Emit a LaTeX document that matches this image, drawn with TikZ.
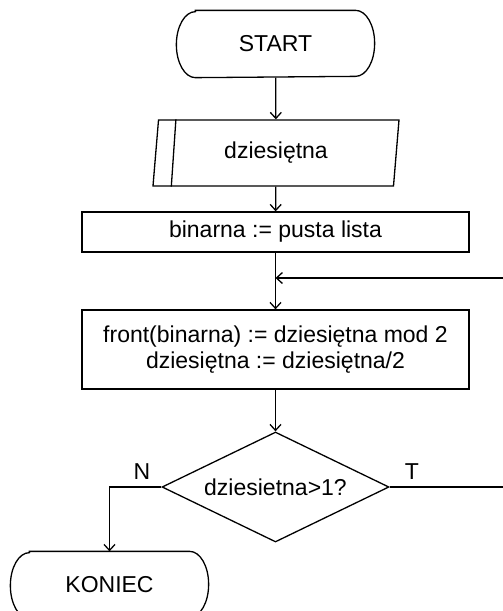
\documentclass[tikz,border=0pt]{standalone}
\usepackage{fontspec}
\setmainfont{Liberation Sans}
\usetikzlibrary{shapes.geometric,arrows.meta}
\newcommand{\termOutline}[1]{%
  \draw ([xshift=9.5pt]#1.north west) -- ([xshift=-9.5pt]#1.north east)
    arc[start angle=90,end angle=-90,x radius=9.5pt,y radius=16.5pt]
    -- ([xshift=9.5pt]#1.south west)
    arc[start angle=270,end angle=90,x radius=9.5pt,y radius=16.5pt] -- cycle;}

\begin{document}
\begin{tikzpicture}[x=0.5pt,y=-0.5pt,line width=0.65pt,
  every node/.style={font=\fontsize{11.5pt}{13pt}\selectfont},
  term/.style={minimum width=98.5pt,minimum height=33pt,inner sep=0pt},
  inout/.style={draw,trapezium,trapezium left angle=75.6,trapezium right angle=104.4,
    trapezium stretches body,minimum width=123pt,minimum height=33pt,inner sep=0pt},
  block/.style={draw,minimum width=193.5pt,inner sep=0pt,align=center},
  test/.style={draw,diamond,aspect=2.06,minimum width=113.5pt,minimum height=55pt,inner sep=0pt},
  arr/.style={-{Straight Barb[length=3pt,width=5.5pt]}}]
 \useasboundingbox (0,0) rectangle (503,611);
 \node[term] (start) at (275.5,44) {START};
 \termOutline{start}
 \node[inout] (io) at (276,153) {dziesiętna};
 \draw ([xshift=9pt]io.top left corner) -- ([xshift=9.5pt]io.bottom left corner);
 \node[block,minimum height=20pt] (init) at (275.5,232) {binarna := pusta lista};
 \coordinate (loop) at (275.5,278);
 \coordinate (back) at (503,278);
 \node[block,minimum height=39.5pt] (body) at (275.5,349.5)
   {front(binarna) := dziesiętna mod 2\\dziesiętna := dziesiętna/2};
 \node[test] (cond) at (275.5,487) {dziesietna>1?};
 \node (no) at (142,472) {N};
 \node (yes) at (412,472) {T};
 \coordinate (out) at (503,487);
 \node[term] (stop) at (109.5,585) {KONIEC};
 \termOutline{stop}
 % connectors
 \draw[arr] (start) -- (io);
 \draw[arr] (io) -- (init);
 \draw (init) -- (loop);
 \draw[arr] (loop) -- (body);
 \draw[arr] (back) -- (loop);
 \draw[arr] (body) -- (cond);
 \draw[arr] (cond.west) -| (stop);
 \draw (cond.east) -- (out);
\end{tikzpicture}
\end{document}
